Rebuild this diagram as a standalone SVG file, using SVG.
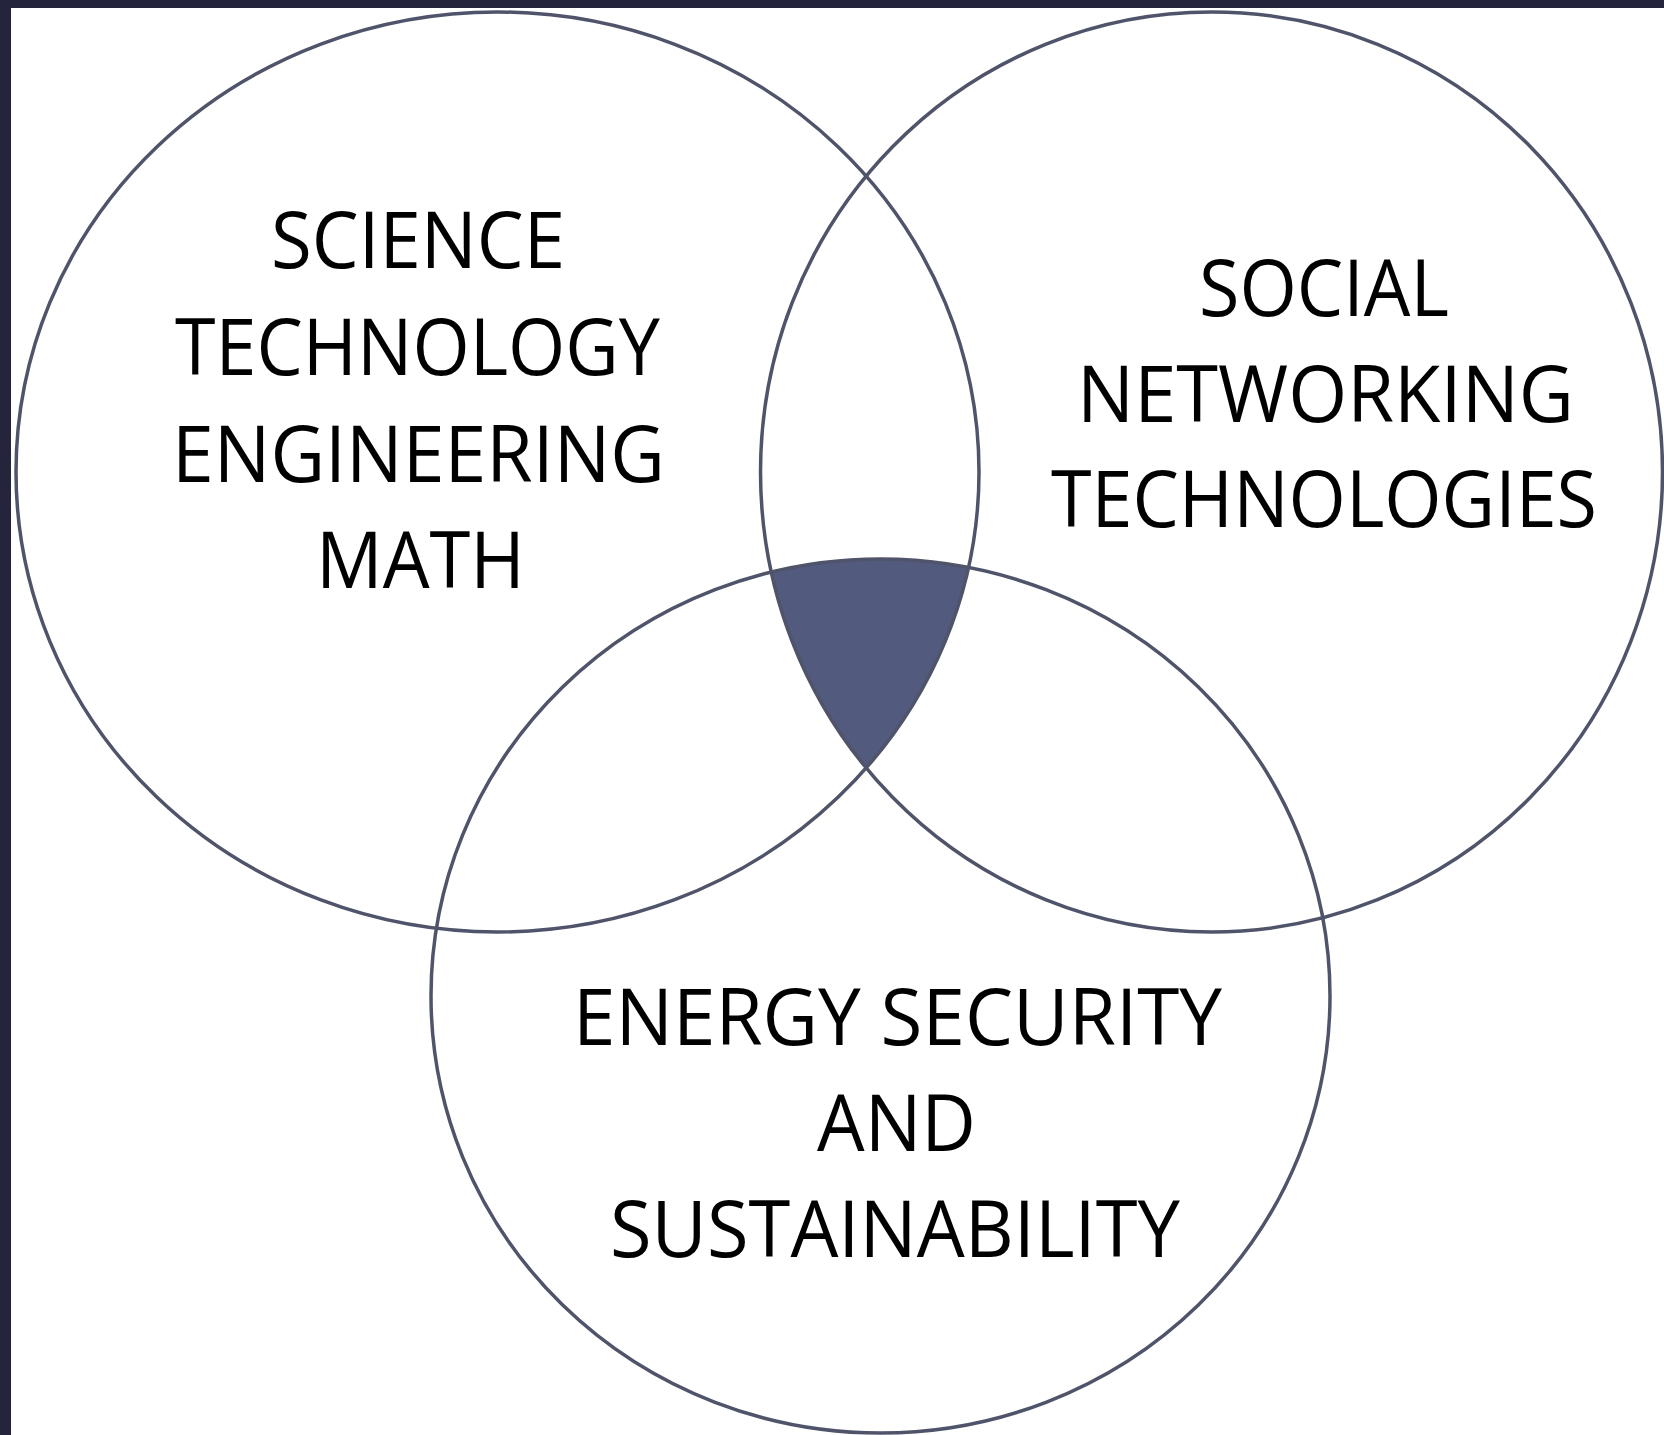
<svg xmlns="http://www.w3.org/2000/svg" width="1664" height="1435" viewBox="0 0 1664 1435">
  <style>
    .ring { fill: none; stroke: #50546a; stroke-width: 3.5; }
    .label { font-family: "Open Sans", "Noto Sans", "Liberation Sans", sans-serif; font-size: 78px; fill: #000; text-anchor: middle; }
  </style>
  <defs>
    <clipPath id="clip-stem"><ellipse cx="497.5" cy="472" rx="481.5" ry="460"/></clipPath>
    <clipPath id="clip-social"><ellipse cx="1211.5" cy="472" rx="451" ry="460"/></clipPath>
  </defs>

  <!-- frame -->
  <rect x="0" y="0" width="1664" height="1435" fill="#24243c"/>
  <rect x="11" y="8" width="1653" height="1427" fill="#ffffff"/>

  <!-- shared centre where all three sets overlap -->
  <g id="overlap" clip-path="url(#clip-stem)">
    <g clip-path="url(#clip-social)">
      <ellipse cx="880.5" cy="996" rx="449.5" ry="437" fill="#525a7e"/>
    </g>
  </g>

  <g id="stem">
    <ellipse class="ring" cx="497.5" cy="472" rx="481.5" ry="460"/>
    <text class="label" x="418" y="268" textLength="294" lengthAdjust="spacingAndGlyphs">SCIENCE</text>
    <text class="label" x="417.5" y="375" textLength="485" lengthAdjust="spacingAndGlyphs">TECHNOLOGY</text>
    <text class="label" x="418.5" y="482" textLength="493" lengthAdjust="spacingAndGlyphs">ENGINEERING</text>
    <text class="label" x="420.5" y="588" textLength="209" lengthAdjust="spacingAndGlyphs">MATH</text>
  </g>

  <g id="social">
    <ellipse class="ring" cx="1211.5" cy="472" rx="451" ry="460"/>
    <text class="label" x="1324" y="316" textLength="250" lengthAdjust="spacingAndGlyphs">SOCIAL</text>
    <text class="label" x="1325.5" y="422" textLength="497" lengthAdjust="spacingAndGlyphs">NETWORKING</text>
    <text class="label" x="1324" y="527" textLength="546" lengthAdjust="spacingAndGlyphs">TECHNOLOGIES</text>
  </g>

  <g id="energy">
    <ellipse class="ring" cx="880.5" cy="996" rx="449.5" ry="437"/>
    <text class="label" x="897.5" y="1045" textLength="649" lengthAdjust="spacingAndGlyphs">ENERGY SECURITY</text>
    <text class="label" x="896.5" y="1151" textLength="159" lengthAdjust="spacingAndGlyphs">AND</text>
    <text class="label" x="895" y="1257" textLength="570" lengthAdjust="spacingAndGlyphs">SUSTAINABILITY</text>
  </g>
</svg>
